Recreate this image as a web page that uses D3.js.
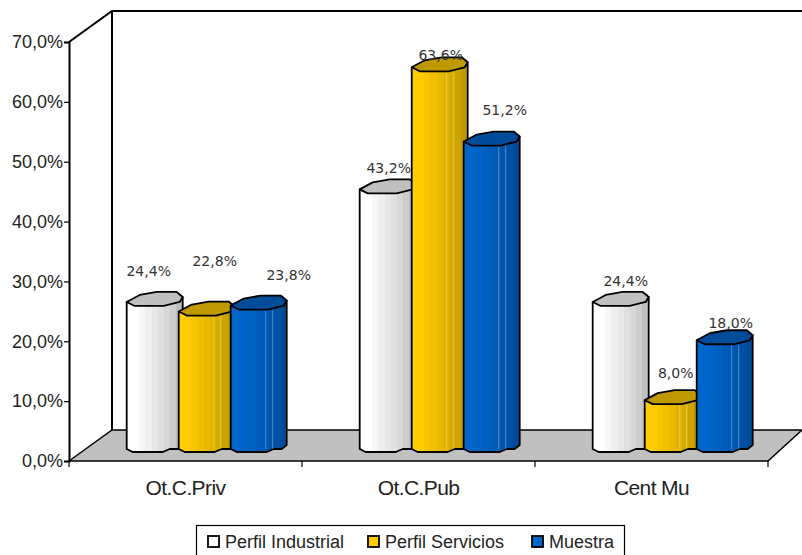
<!DOCTYPE html>
<html>

<head>
    <meta http-equiv="content-type" content="text/html; charset=utf-8">
    <title>Perfil</title>
    <script src="https://cdn.jsdelivr.net/npm/d3@7/dist/d3.min.js"></script>
    <style>
        html, body { margin: 0; padding: 0; background: white; overflow: hidden; }
        svg { display: block; }
        text { font-family: "Liberation Sans", Arial, sans-serif; fill: #222; }
    </style>
</head>

<body>
    <svg width="802" height="555" id="mainsvg"></svg>
    <script>
        const categories = ['Ot.C.Priv', 'Ot.C.Pub', 'Cent Mu'];
        const seriesNames = ['Perfil Industrial', 'Perfil Servicios', 'Muestra'];
        const perfilIndustrial = [24.4, 43.2, 24.4];
        const perfilServicios = [22.8, 63.6, 8.0];
        const muestra = [23.8, 51.2, 18.0];
        const yTicks = [0, 10, 20, 30, 40, 50, 60, 70];

        // colours per series: front left, front right, top cap
        const seriesColors = [
            ['#ffffff', '#bfbfbf', '#c0c0c0'],
            ['#ffcc00', '#bf9900', '#bf9900'],
            ['#0066cc', '#004c99', '#004c99']
        ];
        const seriesValues = [perfilIndustrial, perfilServicios, muestra];

        // the labels in the picture are hand placed, so nudge them from the bar: dx, dy
        const labelNudge = [
            [[22, -30], [29, -20], [33, -20]],
            [[36, -50], [29, -11], [31, -26]],
            [[58, -30], [41, -31], [34, -16]]
        ];
        const legendX = [208, 368, 532];
        // thin light seams on the coloured cylinders
        const seamOffsets = [35, 42];

        const svg = d3.select('#mainsvg');
        const fmt = v => d3.format('.1f')(v).replace('.', ',') + '%';

        const yScale = d3.scaleLinear().domain([0, 70]).range([461, 42]);
        const xScale = d3.scaleBand().domain(categories).range([69, 768]);
        const seriesScale = d3.scaleBand().domain(d3.range(3)).range([57.7, 213.7]);

        const depthX = 43, depthY = 31, floorLift = 9;
        const line = d3.line();

        // stepped gradients like the old office charts
        const defs = svg.append('defs');
        seriesColors.forEach((c, i) => {
            const ramp = d3.interpolateRgb(c[0], c[1]);
            const steps = [0, 0, 0.12, 0.25, 0.38, 0.5, 0.62, 0.8, 1];
            const grad = defs.append('linearGradient').attr('id', 'bar' + i);
            steps.forEach((s, j) => {
                grad.append('stop').attr('offset', j / steps.length).attr('stop-color', ramp(s));
                grad.append('stop').attr('offset', (j + 1) / steps.length).attr('stop-color', ramp(s));
            });
        });

        // walls and floor
        const x0 = xScale.range()[0], x1 = xScale.range()[1];
        const yBase = yScale(0), yTop = yScale(70);
        svg.append('path')
            .attr('d', line([[x0, yBase], [x0 + depthX, yBase - depthY], [802, yBase - depthY], [x1, yBase]]) + 'Z')
            .attr('fill', '#c0c0c0').attr('stroke', '#000').attr('stroke-width', 1.5);
        svg.append('path')
            .attr('d', line([[x0, yTop], [x0 + depthX, yTop - depthY], [802, yTop - depthY]]))
            .attr('fill', 'none').attr('stroke', '#000').attr('stroke-width', 2);
        svg.append('path')
            .attr('d', line([[x0 + depthX, yTop - depthY], [x0 + depthX, yBase - depthY]]))
            .attr('fill', 'none').attr('stroke', '#000').attr('stroke-width', 2);

        // y axis
        const yAxis = d3.axisLeft(yScale).tickValues(yTicks).tickFormat(fmt).tickSize(5).tickPadding(1);
        const yG = svg.append('g').attr('transform', `translate(${x0},0)`).call(yAxis);
        yG.select('.domain').attr('stroke', '#000').attr('stroke-width', 2);
        yG.selectAll('.tick line').attr('stroke', '#000').attr('stroke-width', 1.2);
        yG.selectAll('.tick text').style('font-size', '18px').style('font-family', '"Liberation Sans"').attr('fill', '#222');

        // x axis, ticks sit between the categories
        const xAxis = d3.axisBottom(xScale).tickSize(0).tickPadding(19);
        const xG = svg.append('g').attr('transform', `translate(0,${yBase})`).call(xAxis);
        xG.select('.domain').remove();
        xG.selectAll('.tick text').style('font-size', '21px').style('font-family', '"Liberation Sans"')
            .style('letter-spacing', '-0.6px').attr('fill', '#222');
        svg.selectAll('.xtick').data(categories.map(c => xScale(c)).concat([x1])).join('line')
            .attr('class', 'xtick')
            .attr('x1', d => d).attr('x2', d => d)
            .attr('y1', yBase).attr('y2', yBase + 6)
            .attr('stroke', '#000').attr('stroke-width', 1.2);

        // bars
        const bars = [];
        seriesValues.forEach((vals, s) => {
            vals.forEach((v, c) => bars.push({ s, c, v }));
        });
        const barG = svg.selectAll('.bar').data(bars).join('g').attr('class', 'bar')
            .attr('transform', d => `translate(${xScale(categories[d.c]) + seriesScale(d.s)},0)`);

        barG.append('path')
            .attr('d', d => {
                const t = yScale(d.v) - floorLift, b = yBase - floorLift;
                return line([[0, t - 4], [0, b - 3], [6, b], [36, b], [43, b - 3], [51, b - 3], [56, b - 7], [56, t - 9]]) + 'Z';
            })
            .attr('fill', d => `url(#bar${d.s})`)
            .attr('stroke', '#000').attr('stroke-width', 1.8).attr('stroke-linejoin', 'round');

        seamOffsets.forEach(off => {
            barG.filter(d => d.s > 0).append('line')
                .attr('x1', off).attr('x2', off)
                .attr('y1', d => yScale(d.v) - floorLift + 1)
                .attr('y2', yBase - floorLift - 3)
                .attr('stroke', 'white').attr('stroke-opacity', 0.3).attr('stroke-width', 1);
        });

        barG.append('path')
            .attr('d', d => {
                const t = yScale(d.v) - floorLift;
                return line([[0, t - 4], [13, t - 11], [30, t - 14], [50, t - 14], [56, t - 9], [53, t - 4], [37, t], [8, t]]) + 'Z';
            })
            .attr('fill', d => seriesColors[d.s][2])
            .attr('stroke', '#000').attr('stroke-width', 1.8).attr('stroke-linejoin', 'round');

        // value labels
        svg.selectAll('.val').data(bars).join('text').attr('class', 'val')
            .attr('x', d => xScale(categories[d.c]) + seriesScale(d.s) + labelNudge[d.s][d.c][0])
            .attr('y', d => yScale(d.v) - floorLift + labelNudge[d.s][d.c][1])
            .attr('text-anchor', 'middle')
            .style('font-family', '"DejaVu Sans"').style('font-size', '14px')
            .style('fill', '#333')
            .text(d => fmt(d.v));

        // legend, box runs off the bottom of the picture
        svg.append('rect').attr('x', 196.5).attr('y', 525.5).attr('width', 428).attr('height', 40)
            .attr('fill', 'white').attr('stroke', '#000').attr('stroke-width', 1.2);
        const legend = svg.selectAll('.leg').data(seriesNames).join('g').attr('class', 'leg')
            .attr('transform', (d, i) => `translate(${legendX[i]},536)`);
        legend.append('rect').attr('width', 11).attr('height', 11)
            .attr('fill', (d, i) => seriesColors[i][0])
            .attr('stroke', '#000').attr('stroke-width', 1.8);
        legend.append('text').attr('x', 17).attr('y', 12)
            .style('font-size', '18px').text(d => d);
    </script>
</body>

</html>
